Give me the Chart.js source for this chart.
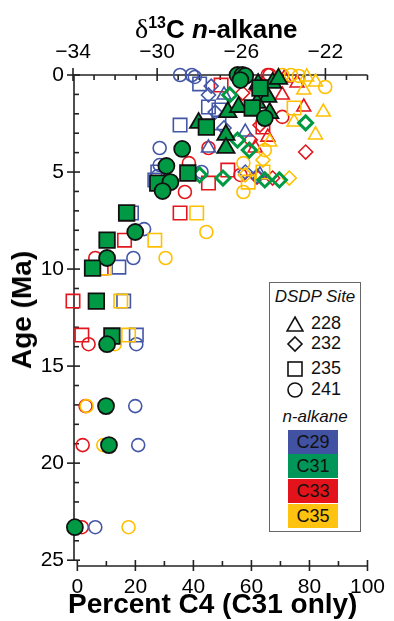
<!DOCTYPE html>
<html>
<head>
<meta charset="utf-8">
<script src="https://cdn.jsdelivr.net/npm/chart.js@4"></script>
<style>
  html, body { margin: 0; padding: 0; background: #fff; }
  #wrap { position: relative; width: 394px; height: 621px; font-family: "Liberation Sans", Arial, sans-serif; }
  #chart { position: absolute; left: 0; top: 0; }
  #topTitle { position: absolute; left: 135px; top: 16px; font-size: 26px; line-height: 26px; font-weight: bold; white-space: nowrap; color: #000; }
  #topTitle .d { font-family: "Liberation Serif", serif; font-weight: normal; font-size: 28px; }
  #topTitle .sup { font-size: 16px; position: relative; top: -10px; }
  #xTitle { position: absolute; left: 68px; top: 590px; font-size: 28px; line-height: 28px; font-weight: bold; white-space: nowrap; color: #000; }
  #yTitle { position: absolute; left: 22px; top: 310px; font-size: 28px; line-height: 28px; font-weight: bold; white-space: nowrap; color: #000;
            transform: translate(-50%, -50%) rotate(-90deg); }
  #legendBox { position: absolute; left: 269px; top: 282px; width: 90px; height: 248px; border: 1.5px solid #666; background: #fff; color: #111; }
  #legendBox .hd { position: absolute; left: 0; width: 90px; text-align: center; font-style: italic; font-size: 17px; }
  #legendBox .row { position: absolute; left: 16px; font-size: 18px; line-height: 20px; }
  #legendBox .row svg { position: absolute; left: 0; top: 2px; }
  #legendBox .row span { position: absolute; left: 25px; top: 0; }
  #legendBox .blk { position: absolute; left: 18px; width: 50px; height: 24px; text-align: center; font-size: 18px; line-height: 25px; color: #111; }
</style>
</head>
<body>
<div id="wrap">
  <canvas id="chart" width="394" height="621"></canvas>
  <div id="topTitle"><span class="d">δ</span><span class="sup">13</span>C <i>n</i>-alkane</div>
  <div id="xTitle">Percent C4 (C31 only)</div>
  <div id="yTitle">Age (Ma)</div>
  <div id="legendBox">
    <div class="hd" style="top:4px">DSDP Site</div>
    <div class="row" style="top:30px"><svg width="18" height="18"><polygon points="9,2 17,16 1,16" fill="none" stroke="#111" stroke-width="1.6"/></svg><span>228</span></div>
    <div class="row" style="top:50px"><svg width="18" height="18"><polygon points="9,2 16,9 9,16 2,9" fill="none" stroke="#111" stroke-width="1.6"/></svg><span>232</span></div>
    <div class="row" style="top:75px"><svg width="18" height="18"><rect x="2" y="2" width="14" height="14" fill="none" stroke="#111" stroke-width="1.6"/></svg><span>235</span></div>
    <div class="row" style="top:96px"><svg width="18" height="18"><circle cx="9" cy="9" r="7" fill="none" stroke="#111" stroke-width="1.6"/></svg><span>241</span></div>
    <div class="hd" style="top:124px">n-alkane</div>
    <div class="blk" style="top:147px;background:#4152a3">C29</div>
    <div class="blk" style="top:171px;background:#00965a">C31</div>
    <div class="blk" style="top:196px;background:#e3131b">C33</div>
    <div class="blk" style="top:221px;background:#ffc20e">C35</div>
  </div>
</div>
<script>
// --- data: [d13C (permil), age (Ma)] ---
const C29_TRI = [[-27.56, 3.76], [-25.81, 2.94], [-26.82, 1.03], [-25.11, 5.15]];
const C29_DIA = [[-27.56, 1.03], [-27.24, 1.91], [-26.82, 2.73], [-25.81, 5.0], [-25.25, 5.21], [-27.43, 0.57]];
const C29_SQR = [[-27.98, 0.46], [-27.56, 1.65], [-27.06, 1.80], [-28.91, 2.58], [-27.06, 2.47], [-30.11, 5.41],
                 [-31.22, 7.11], [-31.82, 9.9], [-31.59, 11.65], [-30.99, 13.4], [-29.97, 5.0]];
const C29_CIR = [[-28.91, 0], [-28.35, 0], [-28.21, 0.1], [-29.88, 3.76], [-29.88, 4.64], [-29.97, 5.21],
                 [-30.62, 7.94], [-31.13, 9.43], [-30.99, 13.87], [-31.04, 17.06], [-30.9, 19.07], [-32.94, 23.3], [-27.89, 5.0]];

const C31_TRI = [[-25.2, 0.46], [-24.51, 0.41], [-24.23, 0.2], [-24.74, 1.13], [-24.65, 1.96], [-26.64, 1.91],
                 [-26.13, 1.65], [-28.03, 2.47], [-26.73, 3.09], [-26.73, 3.76], [-25.25, 1.44]];
const C31_DIA = [[-26.55, 1.03], [-22.94, 2.47], [-26.18, 3.35], [-25.62, 3.87], [-27.98, 5.15], [-26.87, 5.31],
                 [-24.88, 5.41], [-24.19, 5.41]];
const C31_SQR = [[-27.66, 2.68], [-28.54, 5.05], [-29.97, 5.57], [-31.45, 7.11], [-32.38, 8.51], [-33.07, 9.95],
                 [-32.89, 11.65], [-32.15, 13.45], [-25.48, 1.70], [-25.11, 0.67]];
const C31_CIR = [[-26.18, 0], [-25.94, 0], [-25.81, 0.05], [-26.04, 0.26], [-24.88, 2.22], [-28.81, 3.81],
                 [-29.56, 4.69], [-29.37, 5.52], [-29.74, 5.98], [-31.04, 8.09], [-32.38, 9.43], [-32.38, 13.87],
                 [-32.43, 17.06], [-32.29, 19.07], [-33.91, 23.3]];

const C33_TRI = [[-23.95, 0.15], [-23.35, 0.41], [-24.05, 1.03], [-23.03, 1.65], [-24.74, 3.2], [-25.34, 3.76], [-25.25, 0.6]];
const C33_DIA = [[-25.94, 0.93], [-25.57, 3.35], [-22.94, 3.97], [-25.25, 5.26], [-24.51, 5.31], [-25.11, 2.58]];
const C33_SQR = [[-26.96, 0.52], [-24.97, 2.68], [-27.56, 5.57], [-26.64, 4.9], [-28.91, 7.11], [-31.55, 8.51],
                 [-32.66, 9.95], [-34.0, 11.65], [-33.58, 13.4]];
const C33_CIR = [[-24.74, 0], [-24.65, 0], [-24.05, 2.16], [-27.56, 3.76], [-28.49, 4.54], [-28.68, 6.03],
                 [-32.94, 9.43], [-33.26, 13.87], [-33.4, 17.06], [-33.54, 19.07], [-33.58, 23.3], [-26.04, 5.15]];

const C35_TRI = [[-22.89, 0.1], [-22.47, 0.36], [-22.1, 1.91], [-22.47, 3.09], [-23.49, 2.42], [-23.03, 0.77], [-24.65, 3.45]];
const C35_DIA = [[-23.72, 5.31], [-24.97, 4.38], [-25.81, 5.15]];
const C35_SQR = [[-28.12, 7.11], [-30.11, 8.51], [-31.73, 11.65], [-31.36, 13.4], [-24.97, 5.0], [-25.67, 5.52],
                 [-23.49, 1.70], [-32.5, 9.95]];
const C35_CIR = [[-24.05, 0], [-23.63, 0], [-23.26, 0.05], [-22.01, 0.62], [-25.9, 4.54], [-25.9, 6.03],
                 [-27.66, 8.09], [-29.6, 9.43], [-32.01, 13.87], [-33.35, 17.06], [-32.56, 19.07], [-31.36, 23.3], [-24.88, 3.87]];

const TOP_TICKS = [-34, -30, -26, -22];
const BOTTOM_TICKS = [0, 20, 40, 60, 80, 100];
const AGE_TICKS = [0, 5, 10, 15, 20, 25];

const BLUE = '#4457a6', GREEN = '#009a44', RED = '#e3161d', YELLOW = '#ffc000';
const FONT = '"Liberation Sans", Arial, sans-serif';

function toPts(arr) { return arr.map(p => ({ x: p[0], y: p[1] })); }

// hollow markers
function hollow(data, color, style, r) {
    return { data: toPts(data), xAxisID: 'x2', yAxisID: 'y', pointStyle: style, pointRadius: r,
        pointBorderColor: color, pointBackgroundColor: 'rgba(0,0,0,0)', pointBorderWidth: 1.6,
        showLine: false, clip: false, order: 2 };
}
// C31 markers are filled with black edge
function filled(data, style, r) {
    return { data: toPts(data), xAxisID: 'x2', yAxisID: 'y', pointStyle: style, pointRadius: r,
        pointBorderColor: '#111', pointBackgroundColor: GREEN, pointBorderWidth: 1.8,
        showLine: false, clip: false, order: 0 };
}

const datasets = [
    hollow(C35_CIR, YELLOW, 'circle', 6.5), hollow(C35_SQR, YELLOW, 'rect', 9.5),
    hollow(C35_TRI, YELLOW, 'triangle', 8), hollow(C35_DIA, YELLOW, 'rectRot', 7),
    hollow(C29_CIR, BLUE, 'circle', 6.5), hollow(C29_SQR, BLUE, 'rect', 9.5),
    hollow(C29_TRI, BLUE, 'triangle', 8), hollow(C29_DIA, BLUE, 'rectRot', 7),
    hollow(C33_CIR, RED, 'circle', 6.5), hollow(C33_SQR, RED, 'rect', 9.5),
    hollow(C33_TRI, RED, 'triangle', 8), hollow(C33_DIA, RED, 'rectRot', 7),
    filled(C31_CIR, 'circle', 8), filled(C31_SQR, 'rect', 11), filled(C31_TRI, 'triangle', 10)
];
// C31 diamonds are hollow green with a heavy edge
const dia31 = hollow(C31_DIA, GREEN, 'rectRot', 7);
dia31.pointBorderWidth = 3;
dia31.order = 1;
datasets.push(dia31);

// axis lines and inward minor ticks
const axisTicks = {
    id: 'axisTicks',
    beforeDatasetsDraw(chart) {
        const { ctx, chartArea: a, scales } = chart;
        const ln = (x1, y1, x2, y2) => { ctx.beginPath(); ctx.moveTo(x1, y1); ctx.lineTo(x2, y2); ctx.stroke(); };
        ctx.save();
        ctx.strokeStyle = '#222';
        ctx.lineWidth = 1.6;
        const xl = a.left + 1;
        const y25 = scales.y.getPixelForValue(25);
        const x0 = scales.x.getPixelForValue(0);
        ln(a.left, a.top, a.right, a.top);
        ln(xl, a.top, xl, y25);
        ln(x0, a.bottom, a.right, a.bottom);
        for (let v = -34; v <= -20; v++) {
            const px = scales.x2.getPixelForValue(v);
            if (TOP_TICKS.includes(v)) ln(px, a.top - 7, px, a.top + 6);
            else ln(px, a.top, px, a.top + 5);
        }
        for (let v = 0; v <= 25; v++) {
            const py = scales.y.getPixelForValue(v);
            if (AGE_TICKS.includes(v)) ln(xl - 7, py, xl + 6, py);
            else ln(xl, py, xl + 5, py);
        }
        for (let v = 0; v <= 100; v += 10) {
            const px = scales.x.getPixelForValue(v);
            if (BOTTOM_TICKS.includes(v)) ln(px, a.bottom - 6, px, a.bottom + 5);
            else ln(px, a.bottom - 5, px, a.bottom);
        }
        ctx.restore();
    }
};

const minus = v => (v < 0 ? '\u2212' + Math.abs(v) : String(v));

new Chart(document.getElementById('chart'), {
    type: 'scatter',
    data: { datasets },
    options: {
        responsive: false,
        animation: false,
        layout: { padding: { right: 19, left: 0, top: 0, bottom: 0 } },
        plugins: { legend: { display: false }, tooltip: { enabled: false } },
        scales: {
            x2: {
                type: 'linear', position: 'top', min: -34, max: -20,
                grid: { display: false, drawTicks: false }, border: { display: false },
                afterBuildTicks: s => { s.ticks = TOP_TICKS.map(v => ({ value: v })); },
                afterFit: s => { s.height = 75; },
                ticks: { callback: minus, color: '#000', padding: 10, maxRotation: 0, font: { family: FONT, size: 21 } }
            },
            x: {
                type: 'linear', position: 'bottom', min: -1.5, max: 100,
                grid: { display: false, drawTicks: false }, border: { display: false },
                afterBuildTicks: s => { s.ticks = BOTTOM_TICKS.map(v => ({ value: v })); },
                afterFit: s => { s.height = 55; },
                ticks: { color: '#000', padding: 9, maxRotation: 0, font: { family: FONT, size: 21 } }
            },
            y: {
                type: 'linear', reverse: true, min: 0, max: 25.3,
                grid: { display: false, drawTicks: false }, border: { display: false },
                afterBuildTicks: s => { s.ticks = AGE_TICKS.map(v => ({ value: v })); },
                afterFit: s => { s.width = 73; },
                ticks: { color: '#000', padding: 9, font: { family: FONT, size: 21 } }
            }
        }
    },
    plugins: [axisTicks]
});
</script>
</body>
</html>
